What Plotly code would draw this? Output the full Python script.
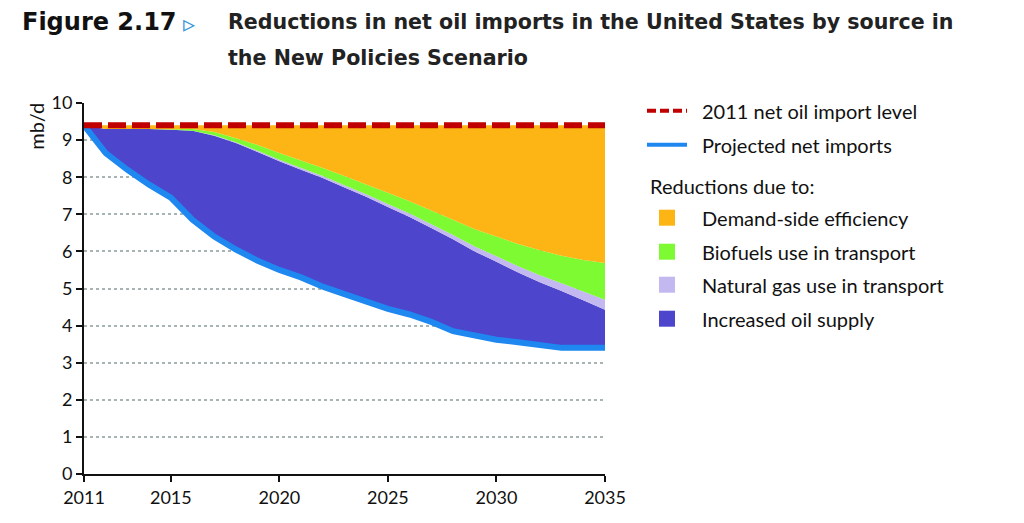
import plotly.graph_objects as go

years = list(range(2011, 2036))
level_2011 = 9.4
net_imports = [9.40, 8.65, 8.20, 7.80, 7.45, 6.85, 6.40, 6.05, 5.75, 5.50, 5.30, 5.05, 4.85,
               4.65, 4.45, 4.30, 4.10, 3.85, 3.73, 3.62, 3.55, 3.47, 3.40, 3.40, 3.40]
oil_supply = [0.00, 0.65, 1.10, 1.50, 1.83, 2.40, 2.72, 2.87, 2.93, 2.93, 2.90, 2.93, 2.87,
              2.82, 2.75, 2.63, 2.53, 2.48, 2.27, 2.10, 1.88, 1.70, 1.53, 1.28, 1.03]
natural_gas = [0.00, 0.00, 0.00, 0.00, 0.00, 0.00, 0.01, 0.02, 0.03, 0.04, 0.05, 0.05, 0.06,
               0.07, 0.08, 0.09, 0.10, 0.11, 0.13, 0.15, 0.17, 0.19, 0.21, 0.24, 0.27]
biofuels = [0.00, 0.00, 0.00, 0.00, 0.01, 0.05, 0.09, 0.11, 0.16, 0.18, 0.20, 0.22, 0.25,
            0.26, 0.30, 0.33, 0.37, 0.41, 0.47, 0.53, 0.60, 0.67, 0.74, 0.85, 0.99]
efficiency = [round(level_2011 - n - o - g - b, 3) for n, o, g, b in
              zip(net_imports, oil_supply, natural_gas, biofuels)]

x_ticks = [2011, 2015, 2020, 2025, 2030, 2035]
y_ticks = list(range(0, 11))

C_EFF = "#FDB515"
C_BIO = "#7DFA32"
C_GAS = "#C4B8F0"
C_OIL = "#4D45CC"
C_NET = "#1E88F0"
C_RED = "#C00000"

fig = go.Figure()
fig.add_trace(go.Scatter(x=years, y=net_imports, stackgroup="s", mode="none",
                         fillcolor="rgba(0,0,0,0)", showlegend=False, hoverinfo="skip"))
for vals, col, name in [(oil_supply, C_OIL, "Increased oil supply"),
                        (natural_gas, C_GAS, "Natural gas use in transport"),
                        (biofuels, C_BIO, "Biofuels use in transport"),
                        (efficiency, C_EFF, "Demand-side efficiency")]:
    fig.add_trace(go.Scatter(x=years, y=vals, stackgroup="s", mode="none",
                             fillcolor=col, name=name, showlegend=False))
fig.add_trace(go.Scatter(x=years, y=net_imports, mode="lines",
                         line=dict(color=C_NET, width=6), showlegend=False))
fig.add_trace(go.Scatter(x=years, y=[level_2011] * len(years), mode="lines",
                         line=dict(color=C_RED, width=6, dash="18px,6px"), showlegend=False))

L, R, T, B = 84, 605, 103.3, 474.3
W, H = R - L, B - T
def px(x):
    return (x - L) / W
def py(y):
    return (B - y) / H

FONT = "Lato, 'Open Sans', sans-serif"
TFONT = "'DejaVu Sans', sans-serif"
ann = []
shapes = []
# title
ann.append(dict(xref="paper", yref="paper", x=px(20), y=py(22), xanchor="left", yanchor="middle",
                text="<b>Figure 2.17</b>", showarrow=False,
                font=dict(family=TFONT, size=24, color="#111")))
ann.append(dict(xref="paper", yref="paper", x=px(181), y=py(24), xanchor="left", yanchor="middle",
                text="▹", showarrow=False,
                font=dict(family=TFONT, size=24, color="#3A9AD9")))
ann.append(dict(xref="paper", yref="paper", x=px(226), y=py(22), xanchor="left", yanchor="middle",
                text="<b>Reductions in net oil imports in the United States by source in</b>",
                showarrow=False, font=dict(family=TFONT, size=20.6, color="#222")))
ann.append(dict(xref="paper", yref="paper", x=px(226), y=py(58), xanchor="left", yanchor="middle",
                text="<b>the New Policies Scenario</b>",
                showarrow=False, font=dict(family=TFONT, size=20.6, color="#222")))
# y axis title
ann.append(dict(xref="paper", yref="paper", x=px(36), y=py(127), xanchor="center", yanchor="middle",
                text="mb/d", textangle=-90, showarrow=False,
                font=dict(family=FONT, size=20, color="#111")))
# legend
shapes.append(dict(type="line", xref="paper", yref="paper", x0=px(647), x1=px(687),
                   y0=py(111), y1=py(111), line=dict(color=C_RED, width=4, dash="9px,4px")))
shapes.append(dict(type="line", xref="paper", yref="paper", x0=px(647), x1=px(687),
                   y0=py(145), y1=py(145), line=dict(color=C_NET, width=4)))
legend_text = [("2011 net oil import level", 111), ("Projected net imports", 145)]
for t, yy in legend_text:
    ann.append(dict(xref="paper", yref="paper", x=px(700), y=py(yy), xanchor="left",
                    yanchor="middle", text=t, showarrow=False,
                    font=dict(family=FONT, size=20, color="#111")))
ann.append(dict(xref="paper", yref="paper", x=px(648), y=py(186), xanchor="left",
                yanchor="middle", text="Reductions due to:", showarrow=False,
                font=dict(family=FONT, size=20, color="#111")))
for t, col, yy in [("Demand-side efficiency", C_EFF, 218), ("Biofuels use in transport", C_BIO, 252),
                   ("Natural gas use in transport", C_GAS, 285), ("Increased oil supply", C_OIL, 319)]:
    shapes.append(dict(type="rect", xref="paper", yref="paper", x0=px(659), x1=px(675),
                       y0=py(yy - 8), y1=py(yy + 8), fillcolor=col, line=dict(width=0)))
    ann.append(dict(xref="paper", yref="paper", x=px(700), y=py(yy), xanchor="left",
                    yanchor="middle", text=t, showarrow=False,
                    font=dict(family=FONT, size=20, color="#111")))

fig.update_layout(
    width=1024, height=523,
    margin=dict(l=L, r=1024 - R, t=T, b=523 - B),
    paper_bgcolor="white", plot_bgcolor="white",
    font=dict(family=FONT, size=18, color="#111"),
    annotations=ann, shapes=shapes,
    xaxis=dict(range=[2011, 2035], tickvals=x_ticks, showgrid=False, zeroline=False,
               showline=True, linecolor="#111", linewidth=2, ticks="outside", ticklen=6,
               tickwidth=2, tickcolor="#111", tickfont=dict(size=18)),
    yaxis=dict(range=[0, 10], tickvals=y_ticks, showgrid=True, gridcolor="#A8B4B4",
               griddash="dot", gridwidth=1.5, zeroline=False, showline=True, linecolor="#111",
               linewidth=2, ticks="outside", ticklen=6, tickwidth=2, tickcolor="#111",
               tickfont=dict(size=18)),
)
fig.write_html("out.html", config={"displayModeBar": False},
               post_script="document.body.style.margin='0';")
